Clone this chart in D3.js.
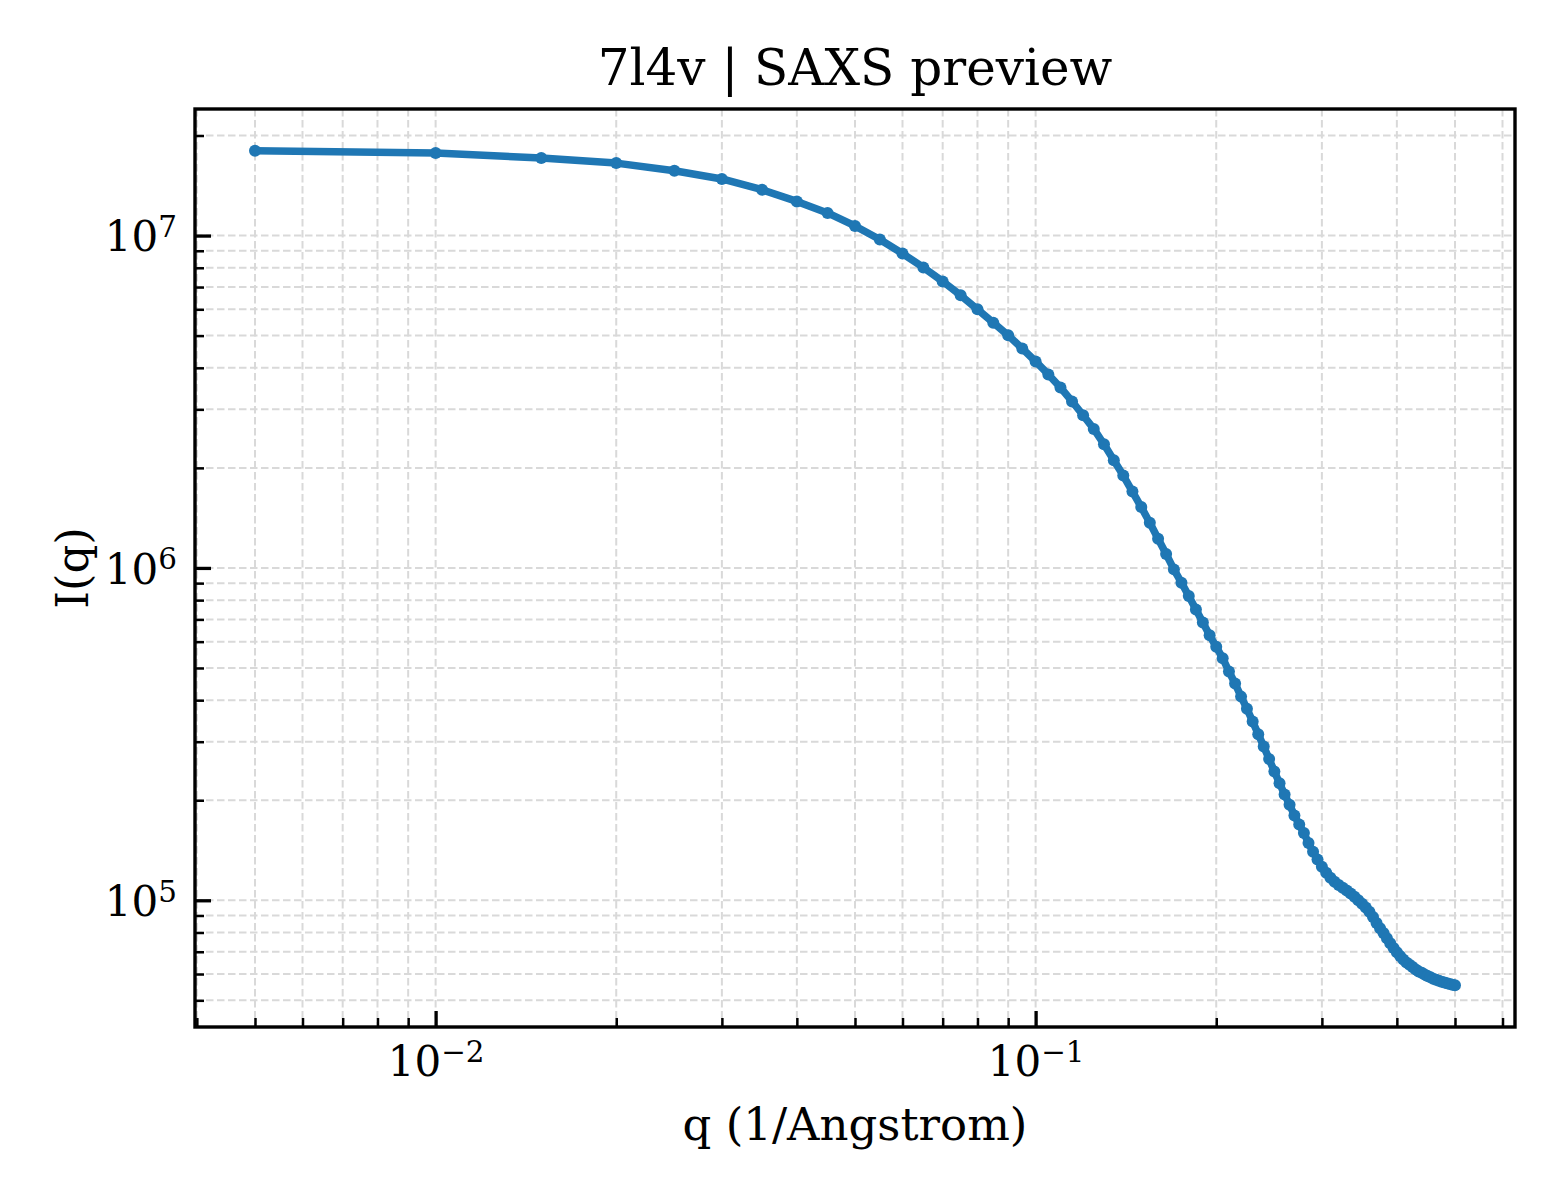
<!DOCTYPE html>
<html>
<head>
<meta charset="utf-8">
<script src="https://cdn.jsdelivr.net/npm/d3@7"></script>
<style>
    body { margin: 0; background: #fff; }
    svg { display: block; font-family: "DejaVu Serif", serif; }
    .grid line { stroke: #d9d9d9; stroke-width: 2; stroke-dasharray: 7.5 3.5; }
    .tick text { font-family: "DejaVu Serif", serif; fill: #000; }
</style>
</head>
<body>
<script>
// scattering vector q (1/Angstrom)
const qValues = [
    0.005, 0.010, 0.015, 0.020, 0.025, 0.030, 0.035, 0.040, 0.045, 0.050,
    0.055, 0.060, 0.065, 0.070, 0.075, 0.080, 0.085, 0.090, 0.095, 0.100,
    0.105, 0.110, 0.115, 0.120, 0.125, 0.130, 0.135, 0.140, 0.145, 0.150,
    0.155, 0.160, 0.165, 0.170, 0.175, 0.180, 0.185, 0.190, 0.195, 0.200,
    0.205, 0.210, 0.215, 0.220, 0.225, 0.230, 0.235, 0.240, 0.245, 0.250,
    0.255, 0.260, 0.265, 0.270, 0.275, 0.280, 0.285, 0.290, 0.295, 0.300,
    0.305, 0.310, 0.315, 0.320, 0.325, 0.330, 0.335, 0.340, 0.345, 0.350,
    0.355, 0.360, 0.365, 0.370, 0.375, 0.380, 0.385, 0.390, 0.395, 0.400,
    0.405, 0.410, 0.415, 0.420, 0.425, 0.430, 0.435, 0.440, 0.445, 0.450,
    0.455, 0.460, 0.465, 0.470, 0.475, 0.480, 0.485, 0.490, 0.495, 0.500
];

// intensity I(q)
const intensity = [
    1.80e7, 1.771e7, 1.711e7, 1.652e7, 1.567e7, 1.480e7, 1.374e7, 1.267e7, 1.170e7, 1.069e7,
    9.73e6, 8.83e6, 8.02e6, 7.28e6, 6.61e6, 6.00e6, 5.47e6, 5.01e6, 4.57e6, 4.18e6,
    3.82e6, 3.49e6, 3.17e6, 2.88e6, 2.62e6, 2.355e6, 2.109e6, 1.896e6, 1.697e6, 1.524e6,
    1.368e6, 1.224e6, 1.102e6, 9.90e5, 9.03e5, 8.23e5, 7.50e5, 6.85e5, 6.27e5, 5.79e5,
    5.35e5, 4.88e5, 4.49e5, 4.10e5, 3.77e5, 3.45e5, 3.16e5, 2.90e5, 2.66e5, 2.44e5,
    2.25e5, 2.08e5, 1.94e5, 1.80e5, 1.69e5, 1.593e5, 1.487e5, 1.400e5, 1.327e5, 1.262e5,
    1.210e5, 1.169e5, 1.137e5, 1.111e5, 1.091e5, 1.071e5, 1.048e5, 1.025e5, 1.001e5, 9.77e4,
    9.51e4, 9.24e4, 8.90e4, 8.54e4, 8.24e4, 7.97e4, 7.69e4, 7.43e4, 7.18e4, 6.98e4,
    6.80e4, 6.63e4, 6.50e4, 6.40e4, 6.30e4, 6.19e4, 6.11e4, 6.05e4, 5.98e4, 5.92e4,
    5.87e4, 5.81e4, 5.77e4, 5.73e4, 5.69e4, 5.66e4, 5.63e4, 5.60e4, 5.57e4, 5.55e4
];

// labelled decades
const xMajorTicks = [1e-2, 1e-1];
const yMajorTicks = [1e5, 1e6, 1e7];

const titleText = "7l4v | SAXS preview";
const xLabel = "q (1/Angstrom)";
const yLabel = "I(q)";

const width = 1560;
const height = 1200;
const margin = { top: 109, right: 45, bottom: 173, left: 195 };
const plotW = width - margin.left - margin.right;
const plotH = height - margin.top - margin.bottom;

const color = "#1f77b4";

const data = qValues.map(function (q, i) {
    return { q: q, I: intensity[i] };
});

// matplotlib-like 5% margin in log space
function logPad(ext) {
    const a = Math.log10(ext[0]);
    const b = Math.log10(ext[1]);
    const p = (b - a) * 0.05;
    return [Math.pow(10, a - p), Math.pow(10, b + p)];
}

const x = d3.scaleLog()
    .domain(logPad(d3.extent(qValues)))
    .range([0, plotW]);

const y = d3.scaleLog()
    .domain(logPad(d3.extent(intensity)))
    .range([plotH, 0]);

const svg = d3.select("body")
    .append("svg")
    .attr("width", width)
    .attr("height", height);

const g = svg.append("g")
    .attr("transform", "translate(" + margin.left + "," + margin.top + ")");

// grid, major and minor
const xGrid = x.ticks();
const yGrid = y.ticks();

g.append("g")
    .attr("class", "grid")
    .selectAll("line")
    .data(xGrid)
    .enter()
    .append("line")
    .attr("x1", d => x(d))
    .attr("x2", d => x(d))
    .attr("y1", 0)
    .attr("y2", plotH);

g.append("g")
    .attr("class", "grid")
    .selectAll("line")
    .data(yGrid)
    .enter()
    .append("line")
    .attr("x1", 0)
    .attr("x2", plotW)
    .attr("y1", d => y(d))
    .attr("y2", d => y(d));

// superscript labels like 10^-2
function powLabel(sel) {
    sel.each(function (d) {
        const t = d3.select(this);
        const e = Math.round(Math.log10(d));
        t.text(null);
        t.append("tspan").text("10");
        t.append("tspan")
            .attr("dy", "-0.48em")
            .attr("font-size", "0.7em")
            .text(e < 0 ? "\u2212" + (-e) : String(e));
    });
}

// minor ticks
const xMinor = xGrid.filter(d => xMajorTicks.indexOf(d) < 0);
const yMinor = yGrid.filter(d => yMajorTicks.indexOf(d) < 0);

g.append("g")
    .attr("transform", "translate(0," + plotH + ")")
    .call(d3.axisBottom(x).tickValues(xMinor).tickFormat("").tickSizeInner(-9).tickSizeOuter(0))
    .call(a => a.select(".domain").remove())
    .call(a => a.selectAll(".tick line").attr("stroke", "#000").attr("stroke-width", 2.5));

g.append("g")
    .call(d3.axisLeft(y).tickValues(yMinor).tickFormat("").tickSizeInner(-9).tickSizeOuter(0))
    .call(a => a.select(".domain").remove())
    .call(a => a.selectAll(".tick line").attr("stroke", "#000").attr("stroke-width", 2.5));

// major ticks with labels
g.append("g")
    .attr("transform", "translate(0," + plotH + ")")
    .call(d3.axisBottom(x).tickValues(xMajorTicks).tickSizeInner(-16).tickSizeOuter(0).tickPadding(17))
    .call(a => a.select(".domain").remove())
    .call(a => a.selectAll(".tick line").attr("stroke", "#000").attr("stroke-width", 3.3))
    .call(a => a.selectAll(".tick text").attr("font-size", 42).attr("dy", "0.76em").call(powLabel));

g.append("g")
    .call(d3.axisLeft(y).tickValues(yMajorTicks).tickSizeInner(-16).tickSizeOuter(0).tickPadding(18))
    .call(a => a.select(".domain").remove())
    .call(a => a.selectAll(".tick line").attr("stroke", "#000").attr("stroke-width", 3.3))
    .call(a => a.selectAll(".tick text").attr("font-size", 42).attr("dy", "0.36em").call(powLabel));

// curve
const line = d3.line()
    .x(d => x(d.q))
    .y(d => y(d.I));

g.append("path")
    .datum(data)
    .attr("fill", "none")
    .attr("stroke", color)
    .attr("stroke-width", 7.5)
    .attr("stroke-linejoin", "round")
    .attr("stroke-linecap", "round")
    .attr("d", line);

g.selectAll(".dot")
    .data(data)
    .enter()
    .append("circle")
    .attr("class", "dot")
    .attr("cx", d => x(d.q))
    .attr("cy", d => y(d.I))
    .attr("r", 6)
    .attr("fill", color);

// frame
g.append("rect")
    .attr("width", plotW)
    .attr("height", plotH)
    .attr("fill", "none")
    .attr("stroke", "#000")
    .attr("stroke-width", 3.4);

// title and axis labels
svg.append("text")
    .attr("x", margin.left + plotW / 2)
    .attr("y", 85)
    .attr("text-anchor", "middle")
    .attr("font-size", 50)
    .text(titleText);

svg.append("text")
    .attr("x", margin.left + plotW / 2)
    .attr("y", 1140)
    .attr("text-anchor", "middle")
    .attr("font-size", 45)
    .text(xLabel);

svg.append("text")
    .attr("transform", "translate(88," + (margin.top + plotH / 2) + ") rotate(-90)")
    .attr("text-anchor", "middle")
    .attr("font-size", 45)
    .text(yLabel);
</script>
</body>
</html>
